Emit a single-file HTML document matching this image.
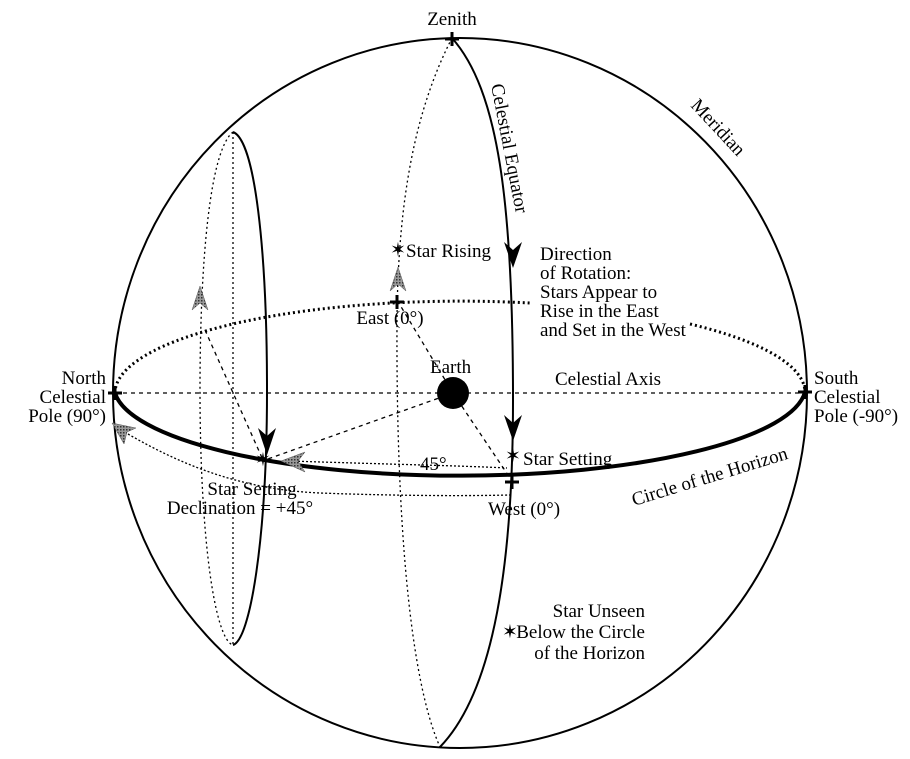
<!DOCTYPE html>
<html><head><meta charset="utf-8"><style>
html,body{margin:0;padding:0;background:#fff;}
svg{display:block;}
text{font-family:"Liberation Serif",serif;font-size:19px;fill:#000;}
</style></head><body>
<svg width="910" height="759" viewBox="0 0 910 759" xmlns="http://www.w3.org/2000/svg">
<defs>
<pattern id="hatch" width="3" height="3" patternUnits="userSpaceOnUse"><rect width="3" height="3" fill="#999"/><rect width="1.5" height="1.5" fill="#333"/></pattern>
</defs>
<!-- outer sphere -->
<ellipse cx="460" cy="393" rx="347" ry="355" fill="none" stroke="#000" stroke-width="2"/>
<!-- celestial axis -->
<line x1="115" y1="393" x2="805" y2="393" stroke="#000" stroke-width="1.3" stroke-dasharray="4,4"/>
<!-- horizon back (dotted) -->
<path d="M115,393 A346,92 0 0 1 530,303" fill="none" stroke="#000" stroke-width="3" stroke-dasharray="2,3"/>
<path d="M690,324 A346,92 0 0 1 805,392" fill="none" stroke="#000" stroke-width="3" stroke-dasharray="2,3"/>
<!-- horizon front (thick) -->
<path d="M115,393 A346,90 0 0 0 805,392" fill="none" stroke="#000" stroke-width="4"/>
<!-- celestial equator solid -->
<path d="M452,38 C498,90 513,200 513,400 C513,560 495,690 440,747" fill="none" stroke="#000" stroke-width="2"/>
<!-- dotted great circle through east -->
<path d="M452,38 C415,110 398,200 397,320 C396,520 410,680 440,747" fill="none" stroke="#000" stroke-width="1.3" stroke-dasharray="2,3"/>
<!-- left declination circle -->
<path d="M233,132 C255,140 267,250 267,390 C267,540 250,640 233,645" fill="none" stroke="#000" stroke-width="2"/>
<path d="M233,132 C210,150 200,260 200,390 C200,540 215,640 233,645" fill="none" stroke="#000" stroke-width="1.3" stroke-dasharray="2,3"/>
<line x1="233" y1="132" x2="233" y2="645" stroke="#000" stroke-width="1.3" stroke-dasharray="2,3"/>
<!-- dashed lines from earth -->
<line x1="453" y1="393" x2="400" y2="305" stroke="#000" stroke-width="1.3" stroke-dasharray="4,4"/>
<line x1="453" y1="393" x2="265" y2="460" stroke="#000" stroke-width="1.3" stroke-dasharray="4,4"/>
<line x1="453" y1="393" x2="510" y2="478" stroke="#000" stroke-width="1.3" stroke-dasharray="4,4"/>
<line x1="205" y1="330" x2="263" y2="460" stroke="#000" stroke-width="1.3" stroke-dasharray="4,4"/>
<!-- dotted arcs -->
<path d="M290,461 C380,464 470,466 507,468" fill="none" stroke="#000" stroke-width="1.3" stroke-dasharray="2,2"/>
<path d="M128,434 C190,470 250,490 320,493 C400,496 470,496 510,495" fill="none" stroke="#000" stroke-width="1.3" stroke-dasharray="2,2"/>
<!-- earth -->
<circle cx="453" cy="393" r="16" fill="#000"/>
<!-- black arrowheads -->
<path d="M504,242 L513,268 L522,242 L513,250 Z" fill="#000"/>
<path d="M504,415 L513,441 L522,415 L513,423 Z" fill="#000"/>
<path d="M258,428 L267,455 L276,428 L267,436 Z" fill="#000"/>
<!-- gray arrowheads -->
<path d="M200,286 L192,310 L200,303 L208,310 Z" fill="url(#hatch)" stroke="#555" stroke-width="0.5"/>
<path d="M398,267 L390,291 L398,284 L406,291 Z" fill="url(#hatch)" stroke="#555" stroke-width="0.5"/>
<path d="M281,461 L305,452 L298,461 L305,472 Z" fill="url(#hatch)" stroke="#555" stroke-width="0.5"/>
<path d="M112,423 L136,428 L127,432 L124,444 Z" fill="url(#hatch)" stroke="#555" stroke-width="0.5"/>
<!-- cross markers -->
<g stroke="#000" stroke-width="3">
<path d="M452,32 V46 M445,39 H459"/>
<path d="M397,295 V309 M390,302 H404"/>
<path d="M115,386 V400 M108,393 H122"/>
<path d="M805,385 V399 M798,392 H812"/>
<path d="M512,475 V489 M505,482 H519"/>
</g>
<!-- stars -->
<g font-size="16">
<text x="398" y="256" text-anchor="middle">✶</text>
<text x="513" y="462" text-anchor="middle">✶</text>
<text x="263" y="466" text-anchor="middle">✶</text>
<text x="510" y="638" text-anchor="middle">✶</text>
</g>
<!-- labels -->
<text x="452" y="25" text-anchor="middle">Zenith</text>
<text transform="translate(491,85) rotate(79)">Celestial Equator</text>
<text transform="translate(690,106) rotate(47)">Meridian</text>
<text x="406" y="257">Star Rising</text>
<text x="540" y="260" font-size="20">Direction</text>
<text x="540" y="279" font-size="20">of Rotation:</text>
<text x="540" y="298" font-size="20">Stars Appear to</text>
<text x="540" y="317" font-size="20">Rise in the East</text>
<text x="540" y="336" font-size="20">and Set in the West</text>
<text x="390" y="324" text-anchor="middle">East (0°)</text>
<text x="430" y="373">Earth</text>
<text x="555" y="385">Celestial Axis</text>
<text x="106" y="384" text-anchor="end">North</text>
<text x="106" y="403" text-anchor="end">Celestial</text>
<text x="106" y="422" text-anchor="end">Pole (90°)</text>
<text x="814" y="384">South</text>
<text x="814" y="403">Celestial</text>
<text x="814" y="422">Pole (-90°)</text>
<text x="420" y="470">45°</text>
<text x="523" y="465">Star Setting</text>
<text transform="translate(634,506) rotate(-17)">Circle of the Horizon</text>
<text x="252" y="495" text-anchor="middle">Star Setting</text>
<text x="240" y="514" text-anchor="middle">Declination = +45°</text>
<text x="488" y="515">West (0°)</text>
<text x="645" y="617" text-anchor="end">Star Unseen</text>
<text x="645" y="638" text-anchor="end">Below the Circle</text>
<text x="645" y="659" text-anchor="end">of the Horizon</text>
</svg>
</body></html>
